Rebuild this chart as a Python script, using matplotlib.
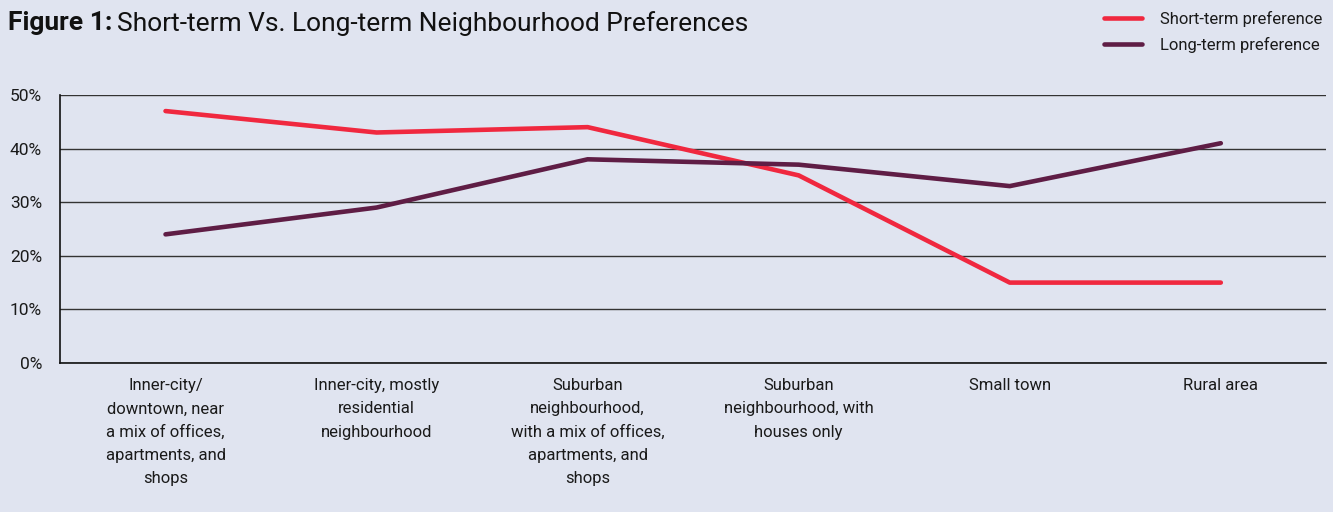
import matplotlib.pyplot as plt
from matplotlib.lines import Line2D

plt.rcParams['font.family'] = ['Roboto', 'DejaVu Sans']

categories = [
    "Inner-city/\ndowntown, near\na mix of offices,\napartments, and\nshops",
    "Inner-city, mostly\nresidential\nneighbourhood",
    "Suburban\nneighbourhood,\nwith a mix of offices,\napartments, and\nshops",
    "Suburban\nneighbourhood, with\nhouses only",
    "Small town",
    "Rural area",
]
short_term = [47, 43, 44, 35, 15, 15]
long_term = [24, 29, 38, 37, 33, 41]
y_ticks = [0, 10, 20, 30, 40, 50]

BG = '#e0e4f0'
RED = '#f0283f'
PURPLE = '#5f1d45'
TXT = '#1a1a1a'

fig = plt.figure(figsize=(13.33, 5.12), dpi=100)
fig.patch.set_facecolor(BG)
ax = fig.add_axes([0.045, 0.291, 0.95, 0.5235])
ax.set_facecolor(BG)

x = range(len(categories))
ax.plot(x, short_term, color=RED, lw=3.3, solid_capstyle='round', zorder=3)
ax.plot(x, long_term, color=PURPLE, lw=3.3, solid_capstyle='round', zorder=3)

ax.set_xlim(-0.5, len(categories) - 0.5)
ax.set_ylim(0, 50)
ax.set_yticks(y_ticks)
ax.set_yticklabels([f"{v}%" for v in y_ticks], fontsize=12.5, color=TXT)
ax.set_xticks(list(x))
ax.set_xticklabels(categories, fontsize=12, color=TXT, linespacing=1.68, va='top')
ax.tick_params(axis='both', length=0, pad=13)
ax.tick_params(axis='x', pad=11)
ax.yaxis.grid(True, color='#333333', lw=1.0)
ax.set_axisbelow(True)
for s in ['top', 'right']:
    ax.spines[s].set_visible(False)
for s in ['left', 'bottom']:
    ax.spines[s].set_color('#111111')
    ax.spines[s].set_linewidth(1.2)

# title
t1 = fig.text(0.006, 0.955, "Figure 1:", fontsize=19, fontweight='bold', va='center', color='#111111')
fig.canvas.draw()
bb = t1.get_window_extent()
fig.text((bb.x1 + 5) / fig.bbox.width, 0.955, "Short-term Vs. Long-term Neighbourhood Preferences",
         fontsize=19, va='center', color='#111111')

# legend
handles = [Line2D([], [], color=RED, lw=3.3, solid_capstyle='round'),
           Line2D([], [], color=PURPLE, lw=3.3, solid_capstyle='round')]
fig.legend(handles, ["Short-term preference", "Long-term preference"],
           loc='upper right', bbox_to_anchor=(1.003, 1.008), frameon=False,
           prop={'size': 12}, handlelength=2.3, handletextpad=1.05,
           labelspacing=0.6, labelcolor=TXT)

fig.savefig("out.png", dpi=100, facecolor=BG)
